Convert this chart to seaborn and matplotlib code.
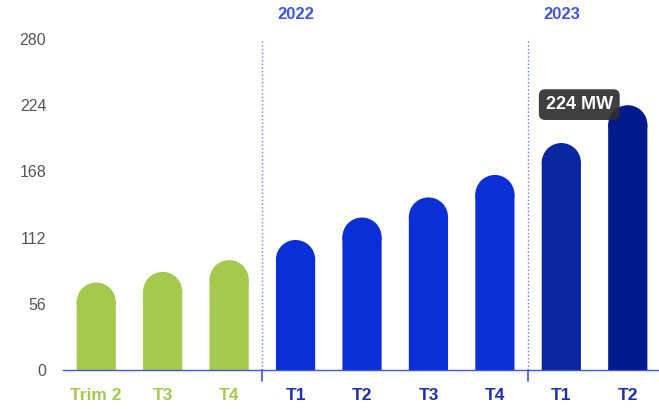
import matplotlib
matplotlib.use('Agg')
import matplotlib.pyplot as plt
from matplotlib.patches import Ellipse
import pandas as pd
import seaborn as sns

# capacity by quarter (MW)
periods = ['Trim 2', 'T3', 'T4', 'T1', 'T2', 'T3', 'T4', 'T1', 'T2']
years = ['2021', '2021', '2021', '2022', '2022', '2022', '2022', '2023', '2023']
values = [74, 83, 93, 110, 129, 146, 165, 192, 224]
bar_colors = ['#a5c94f', '#a5c94f', '#a5c94f', '#0a2fd6', '#0a2fd6', '#0a2fd6', '#0a2fd6',
              '#0b24a0', '#001a8e']
label_colors = ['#a5c94f', '#a5c94f', '#a5c94f', '#1c2fb0', '#1c2fb0', '#1c2fb0', '#1c2fb0',
                '#1c2fb0', '#1c2fb0']
year_marks = ['2022', '2023']
tooltip = '224 MW'

df = pd.DataFrame({'key': [f'{y} {p}' for y, p in zip(years, periods)],
                   'value': values})

sns.set_theme(style='white')
plt.rcParams['font.family'] = ['Liberation Sans', 'DejaVu Sans']

fig = plt.figure(figsize=(6.59, 4.09), dpi=100)
ax = fig.add_axes([63 / 659, 39 / 409, 598 / 659, 331 / 409])

sns.barplot(data=df, x='key', y='value', hue='key', palette=bar_colors,
            legend=False, width=0.59, saturation=1, linewidth=0, ax=ax)

ax.set_xlim(-0.5, len(periods) - 0.5)
ax.set_ylim(0, 280)
ax.set_yticks([0, 56, 112, 168, 224, 280])
ax.set_xlabel('')
ax.set_ylabel('')

# rounded tops: shorten the bar and add a half ellipse cap
bbox = ax.get_window_extent()
px_per_y = bbox.height / 280
px_per_x = bbox.width / len(periods)
for p in ax.patches[:]:
    w = p.get_width()
    r_y = (w * px_per_x / 2) / px_per_y
    h = p.get_height()
    p.set_height(h - r_y * 0.98)
    p.set_snap(False)
    ax.add_patch(Ellipse((p.get_x() + w / 2, h - r_y), w, 2 * r_y,
                         facecolor=p.get_facecolor(), edgecolor='none', lw=0))

for s in ['top', 'right', 'left']:
    ax.spines[s].set_visible(False)
ax.spines['bottom'].set_color('#3f55e0')
ax.spines['bottom'].set_linewidth(1)

ax.tick_params(axis='y', length=0, pad=12, labelsize=11.5, labelcolor='#555555')
ax.tick_params(axis='x', length=0, pad=13)
ax.set_xticks(range(len(periods)))
ax.set_xticklabels(periods, fontsize=12.5, fontweight='bold')
for lbl, c in zip(ax.get_xticklabels(), label_colors):
    lbl.set_color(c)

# year dividers
for yr in year_marks:
    pos = years.index(yr)
    ax.axvline(pos - 0.5, color='#6b7cf0', lw=1, ls=':')
    ax.plot([pos - 0.5, pos - 0.5], [-9.5, 0], color='#3f55e0', lw=1.2, clip_on=False)
    ax.text(pos, 301, yr, ha='center', va='center', color='#3f55e0',
            fontsize=12, fontweight='bold', clip_on=False)

ax.text(len(periods) - 1.73, 224.5, tooltip, ha='center', va='center', color='white',
        fontsize=13, fontweight='bold',
        bbox=dict(boxstyle='round,pad=0.38,rounding_size=0.35', fc='#2e2e2e',
                  ec='none', alpha=0.92))

fig.savefig('out.png', dpi=100)
